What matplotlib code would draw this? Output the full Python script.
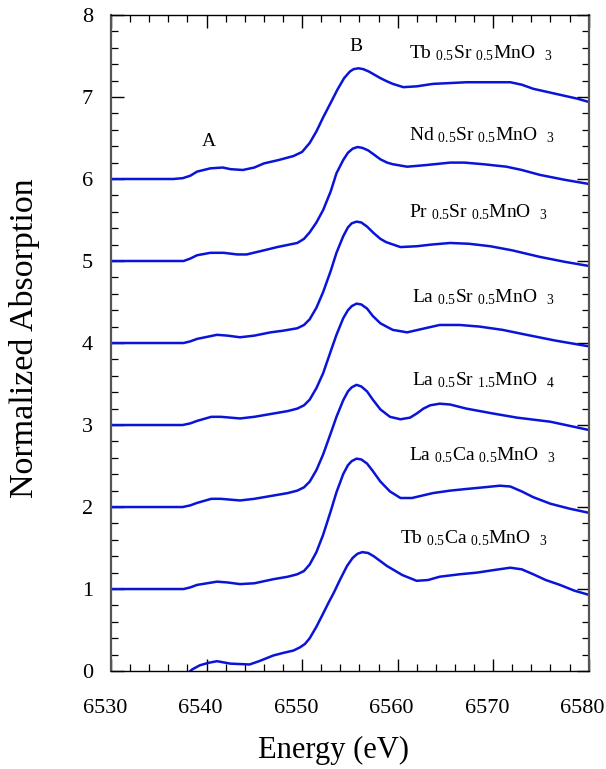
import matplotlib
matplotlib.use("Agg")
import matplotlib.pyplot as plt
from matplotlib.ticker import MultipleLocator
from matplotlib.transforms import ScaledTranslation

plt.rcParams['font.family'] = ['Liberation Serif', 'DejaVu Serif']
plt.rcParams['mathtext.fontset'] = 'custom'
plt.rcParams['mathtext.rm'] = 'Liberation Serif'
plt.rcParams['mathtext.it'] = 'Liberation Serif:italic'

# ---- data (energy in eV, normalized absorption with vertical offsets) ----
E_TbSr = [6530, 6536.5, 6537.5, 6538.3, 6539, 6540.4, 6541.7, 6542.5, 6543.8, 6545, 6546, 6547.5, 6549.1,
          6550, 6550.8, 6551.5, 6552.2, 6553, 6553.7, 6554.4, 6555, 6555.4, 6555.9, 6556.4, 6557, 6557.6,
          6558.2, 6558.9, 6559.5, 6560.6, 6562, 6563.7, 6565.5, 6567.2, 6569.5, 6571.8, 6573, 6574.2,
          6576.5, 6578.8, 6580]
A_TbSr = [6.0, 6.0, 6.01, 6.04, 6.09, 6.13, 6.14, 6.12, 6.11, 6.14, 6.19, 6.23, 6.28, 6.33, 6.44, 6.58,
          6.75, 6.93, 7.09, 7.23, 7.31, 7.34, 7.35, 7.34, 7.31, 7.27, 7.23, 7.19, 7.16, 7.12, 7.13, 7.16,
          7.17, 7.18, 7.18, 7.18, 7.15, 7.10, 7.04, 6.98, 6.94]

E_NdSr = [6530, 6537.6, 6538.3, 6539, 6540.4, 6541.8, 6543.2, 6544.2, 6546, 6547.4, 6549.5, 6550.2, 6550.8,
          6551.5, 6552.2, 6553, 6553.6, 6554.3, 6554.8, 6555.3, 6555.8, 6556.3, 6556.9, 6557.5, 6558.2,
          6558.9, 6559.5, 6561, 6563, 6565.5, 6567, 6569, 6571.4, 6573, 6574.9, 6577.5, 6580]
A_NdSr = [5.0, 5.0, 5.03, 5.07, 5.10, 5.10, 5.08, 5.08, 5.13, 5.17, 5.22, 5.27, 5.35, 5.47, 5.62, 5.85,
          6.07, 6.23, 6.32, 6.37, 6.39, 6.38, 6.35, 6.30, 6.24, 6.20, 6.18, 6.15, 6.17, 6.20, 6.20, 6.18,
          6.15, 6.11, 6.05, 5.99, 5.94]

E_PrSr = [6530, 6537.6, 6538.3, 6539, 6541.1, 6542.2, 6543.5, 6545, 6546.7, 6548, 6549.5, 6550.2, 6550.8,
          6551.5, 6552.2, 6553, 6553.6, 6554.3, 6554.8, 6555.2, 6555.7, 6556.2, 6556.8, 6557.5, 6558.2,
          6558.8, 6560.3, 6562, 6563.5, 6565.5, 6567.5, 6569.7, 6572, 6574.9, 6577.5, 6580]
A_PrSr = [4.0, 4.0, 4.02, 4.05, 4.10, 4.09, 4.07, 4.09, 4.13, 4.15, 4.18, 4.22, 4.29, 4.43, 4.62, 4.88,
          5.10, 5.30, 5.41, 5.46, 5.48, 5.47, 5.42, 5.34, 5.27, 5.23, 5.17, 5.18, 5.20, 5.22, 5.21, 5.18,
          5.13, 5.05, 4.99, 4.94]

E_LaSr = [6530, 6537.5, 6538.3, 6539, 6540.5, 6541.5, 6543.5, 6545, 6547, 6548.5, 6549.5, 6550.2, 6550.8,
          6551.5, 6552.2, 6553, 6553.6, 6554.3, 6554.8, 6555.2, 6555.7, 6556.2, 6556.8, 6557.4, 6558.2,
          6559, 6559.5, 6561, 6562.5, 6564.4, 6566.5, 6568.6, 6571, 6573.5, 6576.5, 6580]
A_LaSr = [3.0, 3.0, 3.02, 3.05, 3.10, 3.10, 3.08, 3.10, 3.14, 3.17, 3.20, 3.24, 3.31, 3.45, 3.63, 3.90,
          4.10, 4.30, 4.40, 4.45, 4.48, 4.47, 4.42, 4.33, 4.24, 4.19, 4.16, 4.13, 4.17, 4.22, 4.22, 4.20,
          4.16, 4.10, 4.03, 3.96]

E_LaSr214 = [6530, 6537.5, 6538.3, 6539, 6540.5, 6541.5, 6543.5, 6545, 6547, 6548.5, 6549.5, 6550.2,
             6550.8, 6551.5, 6552.2, 6553, 6553.6, 6554.3, 6554.8, 6555.2, 6555.7, 6556.2, 6556.8, 6557.4,
             6558.2, 6559.2, 6560.3, 6561.3, 6562, 6562.7, 6563.4, 6564.4, 6565.5, 6567.2, 6570, 6572.5,
             6576, 6578, 6580]
A_LaSr214 = [2.0, 2.0, 2.02, 2.05, 2.10, 2.10, 2.08, 2.10, 2.14, 2.17, 2.20, 2.24, 2.31, 2.45, 2.64, 2.90,
             3.10, 3.30, 3.41, 3.46, 3.49, 3.47, 3.41, 3.31, 3.19, 3.10, 3.07, 3.09, 3.14, 3.20, 3.24, 3.26,
             3.25, 3.20, 3.14, 3.09, 3.04, 2.99, 2.94]

E_LaCa = [6530, 6537.6, 6538.3, 6539, 6541.1, 6542.2, 6543.5, 6545, 6547, 6548.5, 6549.5, 6550.2, 6550.8,
          6551.5, 6552.2, 6553, 6553.6, 6554.3, 6554.8, 6555.2, 6555.7, 6556.2, 6556.8, 6557.4, 6558.2,
          6559.2, 6560.3, 6561.5, 6563.7, 6565.5, 6567.2, 6569, 6570.7, 6571.8, 6573, 6574.2, 6576, 6578,
          6580]
A_LaCa = [1.0, 1.0, 1.02, 1.05, 1.09, 1.08, 1.06, 1.07, 1.12, 1.15, 1.18, 1.22, 1.30, 1.45, 1.66, 1.95,
          2.18, 2.40, 2.51, 2.56, 2.59, 2.58, 2.53, 2.44, 2.31, 2.19, 2.11, 2.11, 2.17, 2.20, 2.22, 2.24,
          2.26, 2.25, 2.19, 2.12, 2.04, 1.98, 1.93]

E_TbCa = [6538.0, 6538.5, 6539.3, 6540.2, 6541.1, 6542.5, 6544.5, 6545.5, 6547, 6548, 6549.1, 6549.8,
          6550.3, 6550.8, 6551.5, 6552.2, 6552.8, 6553.3, 6554, 6554.7, 6555.3, 6555.8, 6556.3, 6556.9,
          6557.5, 6558.2, 6558.9, 6560.5, 6562, 6563.2, 6564.4, 6566.5, 6568.3, 6570, 6571.8, 6573,
          6574.2, 6575.5, 6577, 6578.5, 6580]
A_TbCa = [-0.03, 0.02, 0.07, 0.10, 0.12, 0.09, 0.08, 0.12, 0.19, 0.22, 0.25, 0.29, 0.33, 0.40, 0.54, 0.70,
          0.84, 0.95, 1.12, 1.28, 1.38, 1.43, 1.45, 1.44, 1.40, 1.34, 1.28, 1.17, 1.10, 1.11, 1.15, 1.18,
          1.20, 1.23, 1.26, 1.24, 1.18, 1.11, 1.05, 0.98, 0.93]

labels = [r"Tb $_{0.5}$Sr $_{0.5}$MnO  $_{3}$",
          r"Nd $_{0.5}$Sr $_{0.5}$MnO  $_{3}$",
          r"Pr $_{0.5}$Sr $_{0.5}$MnO  $_{3}$",
          r"La $_{0.5}$Sr $_{0.5}$MnO  $_{3}$",
          r"La $_{0.5}$Sr $_{1.5}$MnO  $_{4}$",
          r"La $_{0.5}$Ca $_{0.5}$MnO  $_{3}$",
          r"Tb $_{0.5}$Ca $_{0.5}$MnO  $_{3}$"]
label_x = [6561.2, 6561.2, 6561.2, 6561.5, 6561.5, 6561.2, 6560.3]
label_y = [7.54, 6.54, 5.59, 4.56, 3.55, 2.63, 1.62]

curves = [(E_TbSr, A_TbSr), (E_NdSr, A_NdSr), (E_PrSr, A_PrSr), (E_LaSr, A_LaSr),
          (E_LaSr214, A_LaSr214), (E_LaCa, A_LaCa), (E_TbCa, A_TbCa)]

fig = plt.figure(figsize=(6.06, 7.69), dpi=100)
ax = fig.add_axes([0.1832, 0.1274, 0.7882, 0.8531])

for (e, a) in curves:
    ax.plot(e, a, color='#0a14d8', lw=1.8, solid_joinstyle='round', solid_capstyle='round')

for t, x, y in zip(labels, label_x, label_y):
    ax.text(x, y, t, fontsize=14, ha='left', va='center')

ax.text(6540.2, 6.46, "A", fontsize=14, ha='center', va='center')
ax.text(6555.6, 7.61, "B", fontsize=14, ha='center', va='center')

ax.set_xlim(6530, 6580)
ax.set_ylim(0, 8)
ax.xaxis.set_major_locator(MultipleLocator(10))
ax.xaxis.set_minor_locator(MultipleLocator(2))
ax.yaxis.set_major_locator(MultipleLocator(1))
ax.yaxis.set_minor_locator(MultipleLocator(0.2))
ax.tick_params(which='both', direction='in', top=True, right=True, labelsize=16)
ax.tick_params(which='major', length=9, width=1.0)
ax.tick_params(which='minor', length=5, width=0.9)
ax.tick_params(axis='x', which='major', pad=20)
ax.tick_params(axis='y', which='major', pad=13)

shift = ScaledTranslation(-6 / 100, 0, fig.dpi_scale_trans)
for lab in ax.get_xticklabels():
    lab.set_transform(lab.get_transform() + shift)

for s in ['left', 'right']:
    ax.spines[s].set_color('#555555')
    ax.spines[s].set_linewidth(1.6)
for s in ['top', 'bottom']:
    ax.spines[s].set_color('black')
    ax.spines[s].set_linewidth(1.0)

fig.text(334 / 606, 1 - 750 / 769, "Energy (eV)", fontsize=22, ha='center', va='center')
fig.text(25 / 606, 1 - 338 / 769, "Normalized Absorption", fontsize=24.5, ha='center', va='center',
         rotation=90)

fig.savefig("out.png", dpi=100)
